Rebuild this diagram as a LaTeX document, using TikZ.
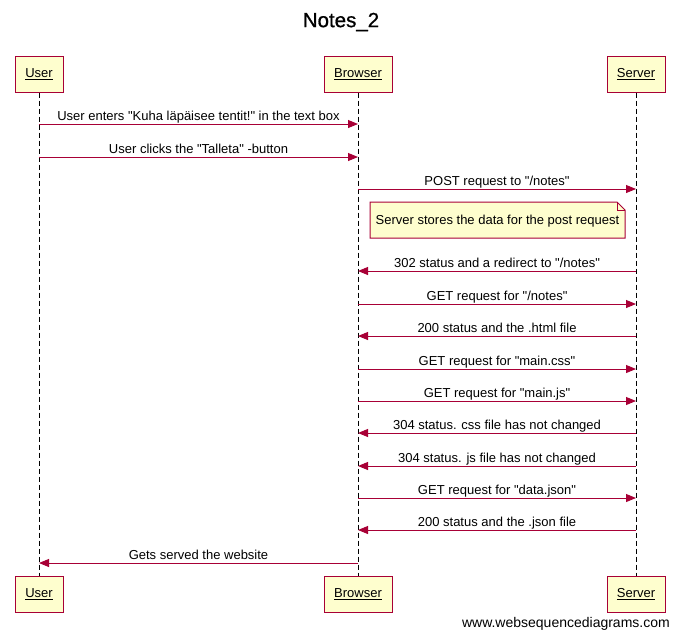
\documentclass[tikz,border=0pt]{standalone}
\usepackage{fontspec}
\setmainfont{Liberation Sans}[Ligatures=TeXOff]
\newfontfamily\titlefont{Liberation Sans}[FakeBold=0.8]
\usetikzlibrary{arrows.meta}
\definecolor{wsdred}{HTML}{A80036}
\definecolor{wsdfill}{HTML}{FEFECE}
\tikzset{
  actorbox/.style={draw=wsdred, fill=wsdfill, line width=1pt, minimum height=36pt, inner sep=0pt, font=\fontsize{13}{15}\selectfont},
  lifeline/.style={dash pattern=on 5pt off 3pt, line width=0.9pt, black},
  msgarrow/.style={draw=wsdred, line width=0.9pt, -{Triangle[length=10pt,width=8pt]}},
  msglabel/.style={font=\fontsize{13}{15}\selectfont, inner sep=0pt, anchor=base},
  notebox/.style={draw=wsdred, fill=wsdfill, line width=1pt}
}
\newcommand{\ul}[1]{\underline{#1}}
\newcommand{\dq}{"}
\begin{document}
\begin{tikzpicture}[x=1pt,y=-1pt]
\useasboundingbox[fill=white] (0,0) rectangle (679,638);
\node[font=\titlefont\fontsize{20.5}{24}\selectfont] (title) at (341,22) {Notes\_2};
% top boxes
\node[actorbox, minimum width=48pt] (ut) at (39,74) {\ul{User}};
\node[actorbox, minimum width=68pt] (bt) at (358,74) {\ul{Browser}};
\node[actorbox, minimum width=58pt] (st) at (636,74) {\ul{Server}};
% bottom boxes
\node[actorbox, minimum width=48pt] (ub) at (39,594) {\ul{User}};
\node[actorbox, minimum width=68pt] (bb) at (358,594) {\ul{Browser}};
\node[actorbox, minimum width=58pt] (sb) at (636,594) {\ul{Server}};
% lifelines
\draw[lifeline] (ut.south) -- (ub.north);
\draw[lifeline] (bt.south) -- (bb.north);
\draw[lifeline] (st.south) -- (sb.north);
% message end points
\foreach \n/\y in {1/124,2/157,3/189,5/271,6/304,7/336,8/369,9/401,10/433,11/466,12/498,13/530,14/563}{
  \coordinate (U\n) at (39,\y);
  \coordinate (B\n) at (358,\y);
  \coordinate (S\n) at (636,\y);
}
\draw[msgarrow] (U1) -- (B1) node[msglabel, pos=0.5, yshift=4pt] (l1) {User enters \dq Kuha läpäisee tentit!\dq{} in the text box};
\draw[msgarrow] (U2) -- (B2) node[msglabel, pos=0.5, yshift=4pt] (l2) {User clicks the \dq Talleta\dq{} -button};
\draw[msgarrow] (B3) -- (S3) node[msglabel, pos=0.5, yshift=4pt] (l3) {POST request to \dq/notes\dq};
% note
\draw[notebox] (370,202) -- (617,202) -- (625,210) -- (625,238) -- (370,238) -- cycle;
\draw[wsdred, line width=0.8pt] (617,202) -- (617,210) -- (625,210);
\node[msglabel, anchor=center] (note) at (497.5,221) {Server stores the data for the post request};
\draw[msgarrow] (S5) -- (B5) node[msglabel, pos=0.5, yshift=4pt] (l5) {302 status and a redirect to \dq/notes\dq};
\draw[msgarrow] (B6) -- (S6) node[msglabel, pos=0.5, yshift=4pt] (l6) {GET request for \dq/notes\dq};
\draw[msgarrow] (S7) -- (B7) node[msglabel, pos=0.5, yshift=4pt] (l7) {200 status and the .html file};
\draw[msgarrow] (B8) -- (S8) node[msglabel, pos=0.5, yshift=4pt] (l8) {GET request for \dq main.css\dq};
\draw[msgarrow] (B9) -- (S9) node[msglabel, pos=0.5, yshift=4pt] (l9) {GET request for \dq main.js\dq};
\draw[msgarrow] (S10) -- (B10) node[msglabel, pos=0.5, yshift=4pt] (l10) {304 status. css file has not changed};
\draw[msgarrow] (S11) -- (B11) node[msglabel, pos=0.5, yshift=4pt] (l11) {304 status. js file has not changed};
\draw[msgarrow] (B12) -- (S12) node[msglabel, pos=0.5, yshift=4pt] (l12) {GET request for \dq data.json\dq};
\draw[msgarrow] (S13) -- (B13) node[msglabel, pos=0.5, yshift=4pt] (l13) {200 status and the .json file};
\draw[msgarrow] (B14) -- (U14) node[msglabel, pos=0.5, yshift=4pt] (l14) {Gets served the website};
\node[font=\fontsize{14}{16}\selectfont, anchor=base east, inner sep=0pt] (wm) at (670,627) {www.websequencediagrams.com};
\end{tikzpicture}
\end{document}
